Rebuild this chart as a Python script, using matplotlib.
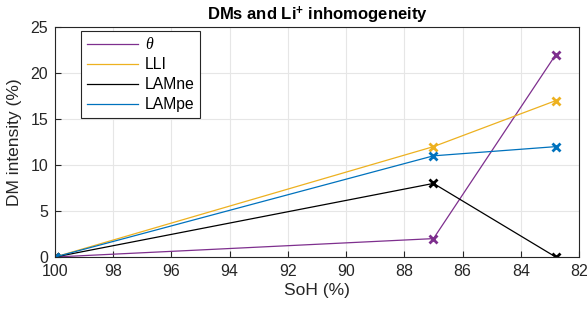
import matplotlib
matplotlib.use('Agg')
import matplotlib.pyplot as plt

plt.rcParams['font.family'] = ['Liberation Sans', 'DejaVu Sans']
plt.rcParams['mathtext.fontset'] = 'custom'
plt.rcParams['mathtext.rm'] = 'Liberation Sans'
plt.rcParams['mathtext.bf'] = 'Liberation Sans:bold'
plt.rcParams['mathtext.it'] = 'Liberation Serif:italic'

soh = [100, 87, 82.8]
theta = [0, 2, 22]
lli = [0, 12, 17]
lamne = [0, 8, 0]
lampe = [0, 11, 12]

labels = [r'$\theta$', 'LLI', 'LAMne', 'LAMpe']
colors = ['#7E2F8E', '#EDB120', '#000000', '#0072BD']
series = [theta, lli, lamne, lampe]

fig = plt.figure(figsize=(5.87, 3.11), dpi=100)
ax = fig.add_axes([0.0937, 0.1736, 0.8927, 0.7394])

for y, c, lab in zip(series, colors, labels):
    ax.plot(soh, y, color=c, lw=0.9, label=lab)
    ax.plot(soh, y, ls='none', marker='x', ms=6, mew=2, color=c)

ax.set_xlim(100, 82)
ax.set_ylim(0, 25)
ax.set_xticks(range(100, 81, -2))
ax.set_yticks(range(0, 26, 5))
ax.grid(True, color='#e6e6e6', lw=0.8)
ax.set_axisbelow(True)
ax.tick_params(direction='in', length=4, colors='#262626', labelsize=11.5)
ax.tick_params(axis='x', pad=5)
ax.tick_params(axis='y', pad=5)
for s in ax.spines.values():
    s.set_color('#262626')
    s.set_linewidth(0.8)

ax.set_xlabel('SoH (%)', fontsize=12.5, color='#262626', labelpad=3)
ax.set_ylabel('DM intensity (%)', fontsize=12.5, color='#262626', labelpad=6)
ax.set_title(r'DMs and Li$^{\mathbf{+}}$ inhomogeneity', fontsize=12, fontweight='bold', pad=5)

leg = ax.legend(loc='upper left', bbox_to_anchor=(0.05, 0.985), fontsize=11.3,
                handlelength=3.3, fancybox=False, framealpha=1, edgecolor='#262626',
                borderpad=0.35, labelspacing=0.32, handletextpad=0.4, borderaxespad=0)
leg.get_frame().set_linewidth(0.8)

fig.savefig('out.png', dpi=100)
